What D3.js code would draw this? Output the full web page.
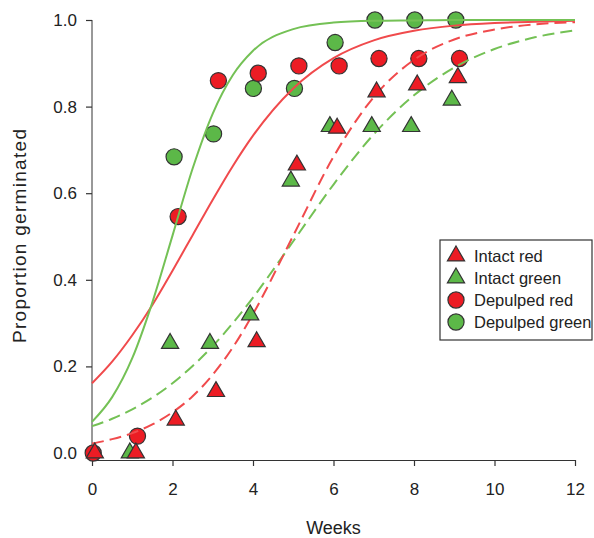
<!DOCTYPE html>
<html>
<head>
<meta charset="utf-8">
<script src="https://cdn.jsdelivr.net/npm/d3@7"></script>
<style>
    body { margin: 0; background: #fff; }
    svg { font-family: "Liberation Sans", Arial, sans-serif; }
</style>
</head>
<body>
<svg id="content"></svg>
<script>
// observed points (weeks as plotted, proportion germinated)
const intactRedWeeks = [0.07, 1.09, 2.08, 3.08, 4.09, 5.09, 6.09, 7.07, 8.08, 9.09];
const intactRedProp = [0.0, 0.0, 0.076, 0.142, 0.257, 0.665, 0.75, 0.834, 0.85, 0.867];
const intactGreenWeeks = [0.94, 1.94, 2.93, 3.93, 4.94, 5.91, 6.95, 7.93, 8.94];
const intactGreenProp = [0.0, 0.253, 0.253, 0.319, 0.628, 0.754, 0.754, 0.754, 0.815];
const depulpedRedWeeks = [0.03, 1.13, 2.14, 3.14, 4.13, 5.14, 6.14, 7.13, 8.12, 9.13];
const depulpedRedProp = [0.0, 0.039, 0.546, 0.86, 0.877, 0.894, 0.894, 0.911, 0.911, 0.911];
const depulpedGreenWeeks = [2.04, 3.02, 4.01, 5.03, 6.04, 7.03, 8.02, 9.04];
const depulpedGreenProp = [0.684, 0.737, 0.842, 0.842, 0.948, 1.0, 1.0, 1.0];

// fitted curves
const fitWeeks = [0, 0.5, 1, 1.5, 2, 2.5, 3, 3.5, 4, 5, 6, 7, 8, 9, 10, 11, 12];
const fitIntactRed = [0.022, 0.032, 0.046, 0.066, 0.094, 0.131, 0.181, 0.244, 0.321, 0.502, 0.684, 0.822, 0.908, 0.955, 0.978, 0.990, 0.995];
const fitIntactGreen = [0.062, 0.079, 0.101, 0.128, 0.161, 0.201, 0.247, 0.300, 0.359, 0.489, 0.620, 0.736, 0.826, 0.890, 0.933, 0.960, 0.976];
const fitDepulpedRed = [0.161, 0.211, 0.272, 0.342, 0.421, 0.503, 0.585, 0.663, 0.733, 0.842, 0.912, 0.953, 0.975, 0.987, 0.993, 0.996, 0.998];
const fitDepulpedGreen = [0.072, 0.129, 0.219, 0.348, 0.502, 0.657, 0.784, 0.873, 0.929, 0.979, 0.994, 0.998, 0.999, 1.0, 1.0, 1.0, 1.0];

const xTicks = [0, 2, 4, 6, 8, 10, 12];
const yTicks = [0, 0.2, 0.4, 0.6, 0.8, 1.0];
const legendLabels = ['Intact red', 'Intact green', 'Depulped red', 'Depulped green'];

document.addEventListener('DOMContentLoaded', function () {

    const width = 594;
    const height = 538;
    const red = '#ec1c24';
    const green = '#5cb848';
    const redLine = '#f04a4c';
    const greenLine = '#74c155';
    const outline = '#333';

    const svg = d3.select('#content')
        .attr('width', width)
        .attr('height', height);

    // scales
    const xScale = d3.scaleLinear().domain([0, 12]).range([92, 575]);
    const yScale = d3.scaleLinear().domain([0, 1]).range([453, 20]);
    const axisY = 460;

    // x axis
    const xAxis = d3.axisBottom(xScale)
        .tickValues(xTicks)
        .tickFormat(d3.format('d'))
        .tickSize(6)
        .tickSizeOuter(0)
        .tickPadding(17);

    const gx = svg.append('g')
        .attr('transform', `translate(0, ${axisY})`)
        .call(xAxis);

    // y axis
    const yAxis = d3.axisLeft(yScale)
        .tickValues(yTicks)
        .tickFormat(d3.format('.1f'))
        .tickSize(6)
        .tickSizeOuter(0)
        .tickPadding(9);

    const gy = svg.append('g')
        .attr('transform', 'translate(92, 0)')
        .call(yAxis);
    gy.select('.domain').remove();
    gy.append('line')
        .attr('x1', 0).attr('x2', 0)
        .attr('y1', 20).attr('y2', axisY)
        .attr('stroke', outline);

    [gx, gy].forEach(g => {
        g.selectAll('.domain, .tick line').attr('stroke', outline).attr('stroke-width', 1.2);
        g.selectAll('.tick text')
            .attr('font-size', 17)
            .attr('fill', '#222')
            .attr('font-family', '"Liberation Sans", Arial, sans-serif');
    });

    // axis titles
    svg.append('text')
        .attr('x', xScale(6))
        .attr('y', 534)
        .attr('text-anchor', 'middle')
        .attr('font-size', 18)
        .attr('fill', '#222')
        .text('Weeks');

    svg.append('text')
        .attr('transform', 'translate(26, 236) rotate(-90)')
        .attr('text-anchor', 'middle')
        .attr('font-size', 19)
        .attr('textLength', 214)
        .attr('lengthAdjust', 'spacing')
        .attr('fill', '#222')
        .text('Proportion germinated');

    const toPoints = (xs, ys) => xs.map((x, i) => [x, ys[i]]);
    const circle = d3.symbol().type(d3.symbolCircle).size(205);
    const triangle = d3.symbol().type(d3.symbolTriangle).size(128);

    function drawMarks(points, fill, shape) {
        svg.append('g').selectAll('path')
            .data(points)
            .enter()
            .append('path')
            .attr('d', shape)
            .attr('transform', d => `translate(${xScale(d[0])}, ${yScale(d[1])})`)
            .attr('fill', fill)
            .attr('stroke', outline)
            .attr('stroke-width', 1.2);
    }

    // circles first
    drawMarks(toPoints(depulpedGreenWeeks, depulpedGreenProp), green, circle);
    drawMarks(toPoints(depulpedRedWeeks, depulpedRedProp), red, circle);

    // fitted lines
    const line = d3.line()
        .x(d => xScale(d[0]))
        .y(d => yScale(d[1]))
        .curve(d3.curveMonotoneX);

    const fits = [
        { values: fitIntactGreen, color: greenLine, dash: '12,6' },
        { values: fitIntactRed, color: redLine, dash: '12,6' },
        { values: fitDepulpedRed, color: redLine, dash: null },
        { values: fitDepulpedGreen, color: greenLine, dash: null }
    ];

    fits.forEach(f => {
        svg.append('path')
            .datum(toPoints(fitWeeks, f.values))
            .attr('d', line)
            .attr('fill', 'none')
            .attr('stroke', f.color)
            .attr('stroke-width', 2)
            .attr('stroke-dasharray', f.dash);
    });

    // triangles on top
    drawMarks(toPoints(intactGreenWeeks, intactGreenProp), green, triangle);
    drawMarks(toPoints(intactRedWeeks, intactRedProp), red, triangle);

    // legend
    const legend = svg.append('g');
    legend.append('rect')
        .attr('x', 440)
        .attr('y', 240)
        .attr('width', 152)
        .attr('height', 100)
        .attr('fill', '#fff')
        .attr('stroke', outline)
        .attr('stroke-width', 1.2);

    const legendShapes = [triangle, triangle, circle, circle];
    const legendFills = [red, green, red, green];

    legendLabels.forEach((label, i) => {
        const cy = 256 + i * 22;
        legend.append('path')
            .attr('d', legendShapes[i])
            .attr('transform', `translate(456, ${cy})`)
            .attr('fill', legendFills[i])
            .attr('stroke', outline)
            .attr('stroke-width', 1.2);
        legend.append('text')
            .attr('x', 474)
            .attr('y', cy + 6)
            .attr('font-size', 16.5)
            .attr('fill', '#222')
            .text(label);
    });

});
</script>
</body>
</html>
